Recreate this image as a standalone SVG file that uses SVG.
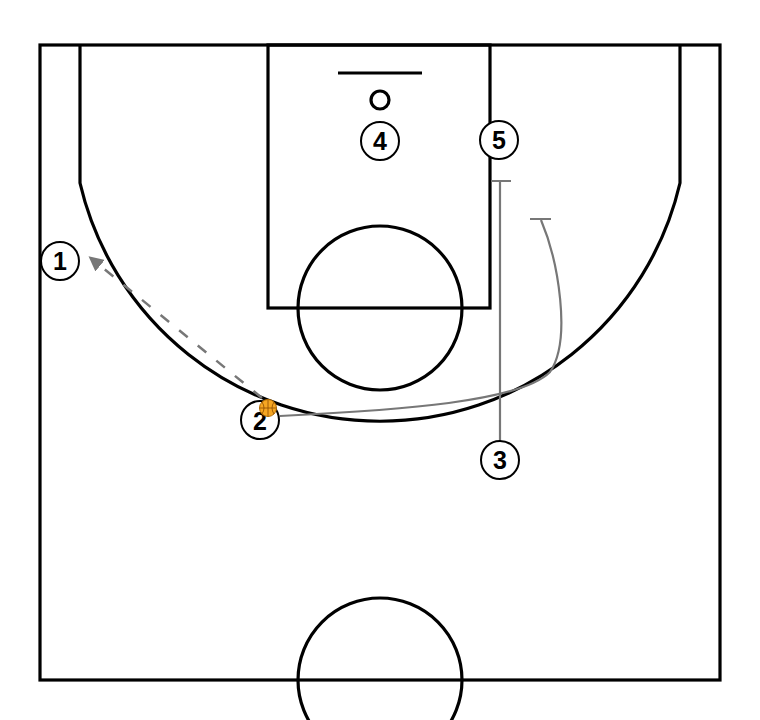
<svg xmlns="http://www.w3.org/2000/svg" width="760" height="720" viewBox="0 0 760 720">
<defs>
<style>
.court{fill:none;stroke:#000;stroke-width:3.2}
.pl circle{fill:#fff;stroke:#000;stroke-width:2}
.pl text{font-family:"Liberation Sans",Arial,sans-serif;font-weight:bold;font-size:25px;text-anchor:middle;fill:#000}
.mv{fill:none;stroke:#777;stroke-width:2.2}
.pass{fill:none;stroke:#777;stroke-width:2.5;stroke-dasharray:11 13}
</style>
<marker id="ah" viewBox="0 0 10 10" refX="7" refY="5" markerWidth="6" markerHeight="6" orient="auto" markerUnits="strokeWidth">
<path d="M0,0 L10,5 L0,10 z" fill="#777"/>
</marker>
</defs>
<rect width="760" height="720" fill="#fff"/>
<g id="court">
<rect class="court" x="40" y="45" width="680" height="635"/>
<path class="court" d="M80,45 V183 A308,308 0 0 0 680,183 V45"/>
<rect class="court" x="268" y="45" width="222" height="263"/>
<circle class="court" cx="380" cy="308" r="82"/>
<line class="court" x1="338" y1="73" x2="422" y2="73" stroke-width="2"/>
<circle class="court" cx="380" cy="100" r="9"/>
<circle class="court" cx="380" cy="680" r="82"/>
</g>
<g id="connectors">
<path class="mv" d="M500,441 V181 M491,181 H511"/>
<path class="mv" d="M280,416 C400,410 520,402 550,372 C572,340 558,260 541,220 M530,219 H551"/>
<path class="pass" d="M262,398 L92,259" marker-end="url(#ah)"/>
</g>
<g id="p1" class="pl"><circle cx="60" cy="261" r="19"/><text x="60" y="270">1</text></g>
<g id="p2" class="pl"><circle cx="260" cy="420" r="19"/><text x="260" y="430">2</text></g>
<g id="p3" class="pl"><circle cx="500" cy="460" r="19"/><text x="500" y="469">3</text></g>
<g id="p4" class="pl"><circle cx="380" cy="141" r="19"/><text x="380" y="150">4</text></g>
<g id="p5" class="pl"><circle cx="499" cy="140" r="19"/><text x="499" y="149">5</text></g>
<g id="ball">
<circle cx="268" cy="408" r="8.5" fill="#f5a623" stroke="#b36b00" stroke-width="1"/>
<path d="M259.5,408 H276.5 M268,399.5 V416.5 M262,402 Q266,408 262,414 M274,402 Q270,408 274,414" fill="none" stroke="#8a4b00" stroke-width="0.8"/>
</g>
</svg>
